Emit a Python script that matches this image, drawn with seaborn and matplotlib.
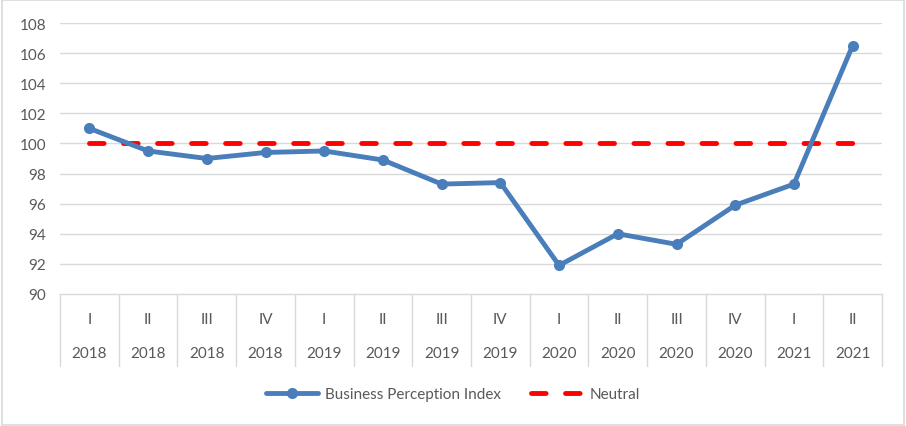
import numpy as np
import pandas as pd
import matplotlib.pyplot as plt
import matplotlib.transforms as mtrans
from matplotlib.lines import Line2D
from matplotlib.patches import Rectangle
import seaborn as sns

# data
quarters = ["I", "II", "III", "IV", "I", "II", "III", "IV", "I", "II", "III", "IV", "I", "II"]
years = ["2018", "2018", "2018", "2018", "2019", "2019", "2019", "2019",
         "2020", "2020", "2020", "2020", "2021", "2021"]
bpi = [101.0, 99.5, 99.0, 99.4, 99.5, 98.9, 97.3, 97.4, 91.9, 94.0, 93.3, 95.9, 97.3, 106.5]
neutral = [100] * len(bpi)
yticks = [90, 92, 94, 96, 98, 100, 102, 104, 106, 108]

sns.set_style("white")
plt.rcParams['font.family'] = ['Lato', 'DejaVu Sans']

df = pd.DataFrame({"pos": np.arange(len(bpi)), "bpi": bpi, "neutral": neutral})

blue = "#4A7EBB"
red = "#FF0000"
grid = "#D9D9D9"
txt = "#595959"
lw = 3.5
dash = (3.0, 4.0)

fig = plt.figure(figsize=(9.06, 4.27), dpi=100)
W, H = 906, 427
left, right, top, bottom = 60, 882, 24, 295
ax = fig.add_axes([left / W, 1 - bottom / H, (right - left) / W, (bottom - top) / H])

sns.lineplot(data=df, x="pos", y="neutral", ax=ax, color=red, linewidth=lw, zorder=2)
nline = ax.lines[-1]
nline.set_dashes(dash)
nline.set_dash_capstyle("round")

sns.lineplot(data=df, x="pos", y="bpi", ax=ax, color=blue, linewidth=lw,
             marker="o", markersize=8, markeredgewidth=0, zorder=3)

ax.set_xlim(-0.5, len(bpi) - 0.5)
ax.set_ylim(90, 108)
ax.set_yticks(yticks)
ax.set_yticklabels([str(t) for t in yticks], color=txt, fontsize=11)
ax.tick_params(axis="y", length=0, pad=10)
ax.set_xticks([])
ax.set_xlabel("")
ax.set_ylabel("")
for t in yticks[1:]:
    ax.axhline(t, color=grid, linewidth=1, zorder=1)
for s in ["left", "right", "top"]:
    ax.spines[s].set_visible(False)
ax.spines["bottom"].set_color(grid)
ax.spines["bottom"].set_linewidth(1)

# multi-level category axis below the plot
trans = mtrans.blended_transform_factory(ax.transData, ax.transAxes)
ph = bottom - top
sep_depth = 72 / ph
for b in np.arange(-0.5, len(bpi), 1.0):
    ax.add_line(Line2D([b, b], [0, -sep_depth], transform=trans, color=grid,
                       linewidth=1, clip_on=False))
for i, (q, y) in enumerate(zip(quarters, years)):
    ax.text(i, -25 / ph, q, transform=trans, ha="center", va="center", color=txt, fontsize=11)
    ax.text(i, -59 / ph, y, transform=trans, ha="center", va="center", color=txt, fontsize=11)

handles = [Line2D([], [], color=blue, linewidth=lw, marker="o", markersize=8, markeredgewidth=0),
           Line2D([], [], color=red, linewidth=lw, dashes=dash, dash_capstyle="round")]
leg = fig.legend(handles, ["Business Perception Index", "Neutral"], loc="center",
                 bbox_to_anchor=(0.5, 1 - 395 / H), ncol=2, frameon=False,
                 fontsize=11, handlelength=3.4, columnspacing=2.0, handletextpad=0.4)
for t in leg.get_texts():
    t.set_color(txt)

fig.patches.append(Rectangle((0.002, 0.003), 0.996, 0.994, transform=fig.transFigure,
                             fill=False, edgecolor=grid, linewidth=1.2))

fig.savefig("out.png", dpi=100)
